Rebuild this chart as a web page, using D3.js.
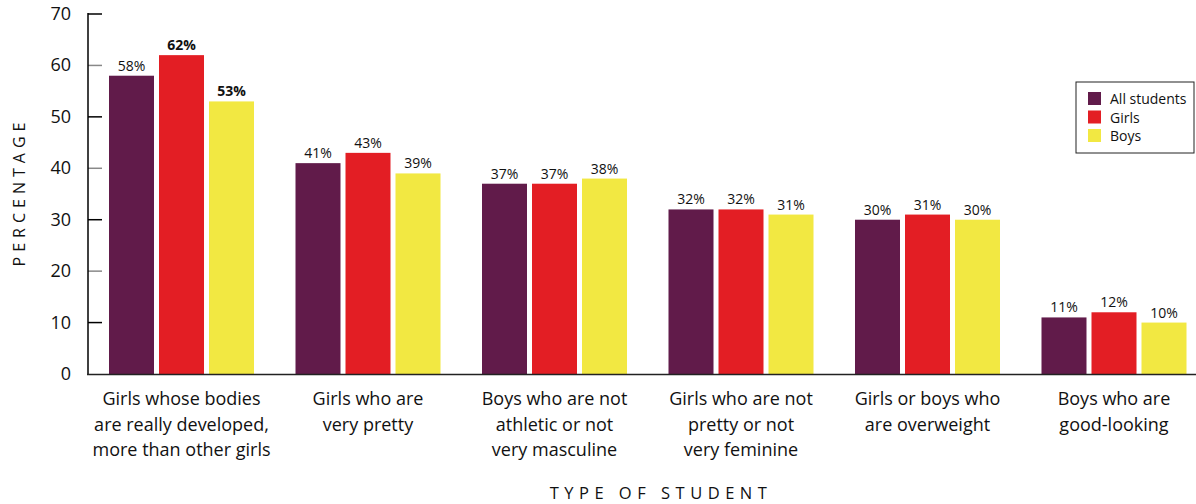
<!DOCTYPE html>
<html lang="en">
<head>
  <meta charset="UTF-8">
  <title>Type of student</title>
  <style>
    body { margin: 0; background: #fff; }
    svg { font-family: "Open Sans", "Noto Sans", sans-serif; }
  </style>
</head>
<body>
  <script src="https://cdn.jsdelivr.net/npm/d3@7"></script>
  <script>
    const categories = [
      ["Girls whose bodies", "are really developed,", "more than other girls"],
      ["Girls who are", "very pretty"],
      ["Boys who are not", "athletic or not", "very masculine"],
      ["Girls who are not", "pretty or not", "very feminine"],
      ["Girls or boys who", "are overweight"],
      ["Boys who are", "good-looking"]
    ];
    const series = ["All students", "Girls", "Boys"];
    const allStudents = [58, 41, 37, 32, 30, 11];
    const girls = [62, 43, 37, 32, 31, 12];
    const boys = [53, 39, 38, 31, 30, 10];
    const boldLabels = [[false, true, true], [false, false, false], [false, false, false],
                        [false, false, false], [false, false, false], [false, false, false]];
    const yTicks = [0, 10, 20, 30, 40, 50, 60, 70];
    const colors = ["#611b4a", "#e31e24", "#f2e842"];

    const width = 1196, height = 504;
    const svg = d3.select("body").append("svg").attr("width", width).attr("height", height);

    const x0 = d3.scaleBand().domain(d3.range(categories.length))
      .range([88, 1207.5]).paddingInner(0.2225).paddingOuter(0.1126);
    const x1 = d3.scaleBand().domain(series).range([0, x0.bandwidth()]).paddingInner(0.1);
    const y = d3.scaleLinear().domain([0, 70]).range([374, 14]);

    const values = [allStudents, girls, boys];

    // ticks, alternating black / gray, pointing inward
    svg.append("g").selectAll("line").data(yTicks.filter(t => t > 0)).enter().append("line")
      .attr("x1", 88).attr("x2", 102)
      .attr("y1", d => y(d)).attr("y2", d => y(d))
      .attr("stroke", d => (d / 10) % 2 === 1 ? "#000" : "#888")
      .attr("stroke-width", 1.5);

    svg.append("g").selectAll("text").data(yTicks).enter().append("text")
      .attr("x", 71).attr("y", d => y(d) + 6)
      .attr("text-anchor", "end").attr("font-size", 18).attr("fill", "#111")
      .text(d => d);

    // bars
    const groups = svg.append("g").selectAll("g").data(categories).enter().append("g")
      .attr("transform", (d, i) => `translate(${x0(i)},0)`);

    groups.each(function(cat, i) {
      const g = d3.select(this);
      series.forEach((s, j) => {
        const v = values[j][i];
        g.append("rect")
          .attr("x", x1(s)).attr("y", y(v))
          .attr("width", x1.bandwidth()).attr("height", y(0) - y(v))
          .attr("fill", colors[j]);
        g.append("text")
          .attr("x", x1(s) + x1.bandwidth() / 2).attr("y", y(v) - 5)
          .attr("text-anchor", "middle").attr("font-size", 14)
          .attr("font-weight", boldLabels[i][j] ? "bold" : "normal")
          .attr("fill", "#111")
          .text(v + "%");
      });
      const t = g.append("text").attr("text-anchor", "middle").attr("font-size", 18).attr("fill", "#111");
      cat.forEach((line, k) => {
        t.append("tspan").attr("x", x0.bandwidth() / 2).attr("y", 405 + k * 25.5).text(line);
      });
    });

    // axes lines
    svg.append("line").attr("x1", 88).attr("x2", 88).attr("y1", 13).attr("y2", 375)
      .attr("stroke", "#000").attr("stroke-width", 1.5);
    svg.append("line").attr("x1", 87).attr("x2", width).attr("y1", 374.5).attr("y2", 374.5)
      .attr("stroke", "#222").attr("stroke-width", 1.5);

    // axis titles
    svg.append("text").attr("transform", "translate(25,192) rotate(-90)")
      .attr("text-anchor", "middle").attr("font-size", 16).attr("letter-spacing", 5)
      .attr("fill", "#111").text("PERCENTAGE");
    svg.append("text").attr("x", 661).attr("y", 499)
      .attr("text-anchor", "middle").attr("font-size", 16.5).attr("letter-spacing", 5.5)
      .attr("fill", "#111").text("TYPE OF STUDENT");

    // legend
    const legend = svg.append("g").attr("transform", "translate(1076,82)");
    legend.append("rect").attr("width", 118).attr("height", 71)
      .attr("fill", "#fff").attr("stroke", "#222").attr("stroke-width", 1);
    series.forEach((s, j) => {
      legend.append("rect").attr("x", 12).attr("y", 10 + j * 18.5).attr("width", 13).attr("height", 13)
        .attr("fill", colors[j]);
      legend.append("text").attr("x", 34).attr("y", 22 + j * 18.5)
        .attr("font-size", 14).attr("fill", "#111").text(s);
    });
  </script>
</body>
</html>
